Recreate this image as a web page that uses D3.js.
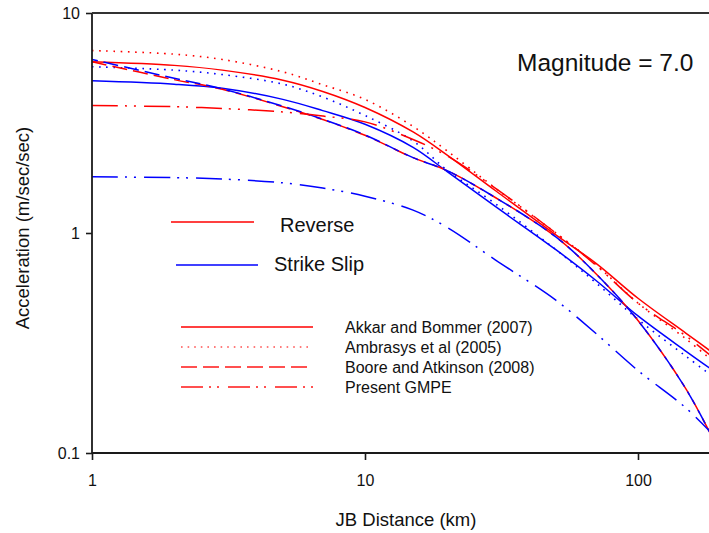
<!DOCTYPE html>
<html>
<head>
<meta charset="utf-8">
<script src="https://cdn.jsdelivr.net/npm/d3@7"></script>
<style>
  html, body { margin: 0; padding: 0; background: #fff; }
  svg { display: block; font-family: "Liberation Sans", Arial, sans-serif; }
</style>
</head>
<body>
<svg id="chart" width="709" height="533"></svg>
<script>
// ---- Data ----
const distances = [1, 2, 3, 5, 7, 10, 15, 20, 30, 50, 70, 100, 150, 200];

const akkarReverse      = [6.00, 5.78, 5.50, 4.95, 4.40, 3.72, 2.88, 2.26, 1.56, 0.98, 0.73, 0.505, 0.35, 0.27];
const akkarStrikeSlip   = [4.92, 4.75, 4.55, 4.05, 3.60, 3.12, 2.45, 1.90, 1.32, 0.84, 0.61, 0.42, 0.29, 0.225];
const ambrasysReverse   = [6.75, 6.50, 6.15, 5.40, 4.72, 4.05, 3.05, 2.36, 1.60, 1.00, 0.72, 0.48, 0.33, 0.245];
const ambrasysStrikeSlip= [5.70, 5.50, 5.25, 4.75, 4.15, 3.42, 2.62, 1.93, 1.36, 0.84, 0.595, 0.405, 0.275, 0.21];
const booreReverse      = [6.00, 4.98, 4.50, 3.75, 3.28, 2.78, 2.20, 1.92, 1.45, 0.96, 0.655, 0.40, 0.195, 0.10];
const booreStrikeSlip   = [6.15, 5.05, 4.52, 3.77, 3.29, 2.79, 2.20, 1.92, 1.45, 0.96, 0.655, 0.40, 0.195, 0.10];
const presentReverse    = [3.80, 3.75, 3.68, 3.55, 3.40, 3.20, 2.66, 2.24, 1.60, 1.00, 0.715, 0.48, 0.34, 0.255];
const presentStrikeSlip = [1.80, 1.785, 1.76, 1.69, 1.60, 1.47, 1.27, 1.06, 0.755, 0.495, 0.35, 0.237, 0.16, 0.112];

const xTickValues = [1, 10, 100];
const xTickLabels = ["1", "10", "100"];
const yTickValues = [0.1, 1, 10];
const yTickLabels = ["0.1", "1", "10"];

const mechanismLabels = ["Reverse", "Strike Slip"];
const modelLabels = ["Akkar and Bommer (2007)", "Ambrasys et al (2005)", "Boore and Atkinson (2008)", "Present GMPE"];
const annotation = "Magnitude = 7.0";
const xTitle = "JB Distance (km)";
const yTitle = "Acceleration (m/sec/sec)";

// ---- Styles ----
const RED = "#ff0000", BLUE = "#0000ff";
const dashStyles = {
  solid: null,
  dotted: "1.6,5.6",
  dashed: "15,6",
  dashdot: "26,7,2,7,2,8"
};
const legendDash = {
  solid: null,
  dotted: "1.6,5",
  dashed: "16,6",
  dashdot: "22,6,2,6,2,9"
};

const series = [
  { values: akkarReverse, color: RED, style: "solid" },
  { values: akkarStrikeSlip, color: BLUE, style: "solid" },
  { values: ambrasysReverse, color: RED, style: "dotted" },
  { values: ambrasysStrikeSlip, color: BLUE, style: "dotted" },
  { values: booreReverse, color: RED, style: "dashed", offset: 0 },
  { values: booreStrikeSlip, color: BLUE, style: "dashed", offset: 9 },
  { values: presentReverse, color: RED, style: "dashdot" },
  { values: presentStrikeSlip, color: BLUE, style: "dashdot" }
];

// ---- Layout ----
const svg = d3.select("#chart");
const plotLeft = 92, plotTop = 13, plotBottom = 453, plotRight = 709;

const x = d3.scaleLog().domain([1, 100]).range([plotLeft, 638]);
const y = d3.scaleLog().domain([0.1, 10]).range([plotBottom, plotTop]);

svg.append("defs").append("clipPath").attr("id", "plotclip")
  .append("rect").attr("x", plotLeft).attr("y", plotTop - 1)
  .attr("width", plotRight - plotLeft).attr("height", plotBottom - plotTop + 2);

// ---- Curves ----
const line = d3.line()
  .x((d, i) => x(distances[i]))
  .y(d => y(d))
  .curve(d3.curveCatmullRom.alpha(0.5));

const g = svg.append("g").attr("clip-path", "url(#plotclip)");
series.forEach(s => {
  g.append("path")
    .attr("d", line(s.values))
    .attr("fill", "none")
    .attr("stroke", s.color)
    .attr("stroke-width", s.style === "dotted" ? 1.6 : 1.5)
    .attr("stroke-dasharray", dashStyles[s.style])
    .attr("stroke-dashoffset", s.offset || 0);
});

// ---- Axes ----
const axisColor = "#1a1a1a";
const xAxis = d3.axisBottom(x).tickValues(xTickValues)
  .tickFormat((d, i) => xTickLabels[i]).tickSize(7).tickSizeOuter(0).tickPadding(15);
const yAxis = d3.axisLeft(y).tickValues(yTickValues)
  .tickFormat((d, i) => yTickLabels[i]).tickSize(6).tickSizeOuter(0).tickPadding(6);

const gx = svg.append("g").attr("transform", `translate(0,${plotBottom})`).call(xAxis);
const gy = svg.append("g").attr("transform", `translate(${plotLeft},0)`).call(yAxis);

[gx, gy].forEach(a => {
  a.select(".domain").remove();
  a.selectAll(".tick line").attr("stroke", axisColor).attr("stroke-width", 1.6);
  a.selectAll(".tick text").attr("fill", "#111").style("font-size", "16px")
    .style("font-family", '"Liberation Sans", Arial, sans-serif');
});
gx.selectAll(".tick text").attr("dy", "0.71em");

// Frame lines (left, bottom, top)
svg.append("line").attr("x1", plotLeft).attr("x2", plotLeft).attr("y1", plotTop).attr("y2", plotBottom)
  .attr("stroke", axisColor).attr("stroke-width", 1.8);
svg.append("line").attr("x1", plotLeft).attr("x2", plotRight).attr("y1", plotBottom).attr("y2", plotBottom)
  .attr("stroke", axisColor).attr("stroke-width", 1.8);
svg.append("line").attr("x1", plotLeft).attr("x2", plotRight).attr("y1", plotTop).attr("y2", plotTop)
  .attr("stroke", "#333").attr("stroke-width", 1.8);

// ---- Titles ----
svg.append("text").attr("x", 406).attr("y", 526).attr("text-anchor", "middle")
  .style("font-size", "18.5px").attr("fill", "#111").text(xTitle);
svg.append("text").attr("transform", "translate(29,228) rotate(-90)").attr("text-anchor", "middle")
  .style("font-size", "18.5px").attr("fill", "#111").text(yTitle);

svg.append("text").attr("x", 517).attr("y", 71).style("font-size", "24.5px")
  .attr("fill", "#111").text(annotation);

// ---- Legend 1: mechanisms ----
const mechColors = [RED, BLUE];
const mechLine = [[171, 254, 222], [176, 258, 265]];
const mechText = [[280, 232], [274, 271]];
mechanismLabels.forEach((lab, i) => {
  svg.append("line").attr("x1", mechLine[i][0]).attr("x2", mechLine[i][1])
    .attr("y1", mechLine[i][2]).attr("y2", mechLine[i][2])
    .attr("stroke", mechColors[i]).attr("stroke-width", 1.5);
  svg.append("text").attr("x", mechText[i][0]).attr("y", mechText[i][1])
    .style("font-size", "20px").attr("fill", "#111").text(lab);
});

// ---- Legend 2: models ----
const modelStyles = ["solid", "dotted", "dashed", "dashdot"];
modelLabels.forEach((lab, i) => {
  const yy = 327 + i * 20;
  svg.append("line").attr("x1", 181).attr("x2", 313).attr("y1", yy).attr("y2", yy)
    .attr("stroke", i === 0 ? RED : "#ff5050")
    .attr("stroke-width", i === 0 ? 1.5 : (modelStyles[i] === "dotted" ? 1.5 : 2))
    .attr("stroke-dasharray", legendDash[modelStyles[i]]);
  svg.append("text").attr("x", 345).attr("y", yy + 6)
    .style("font-size", "16px").attr("fill", "#111").text(lab);
});
</script>
</body>
</html>
